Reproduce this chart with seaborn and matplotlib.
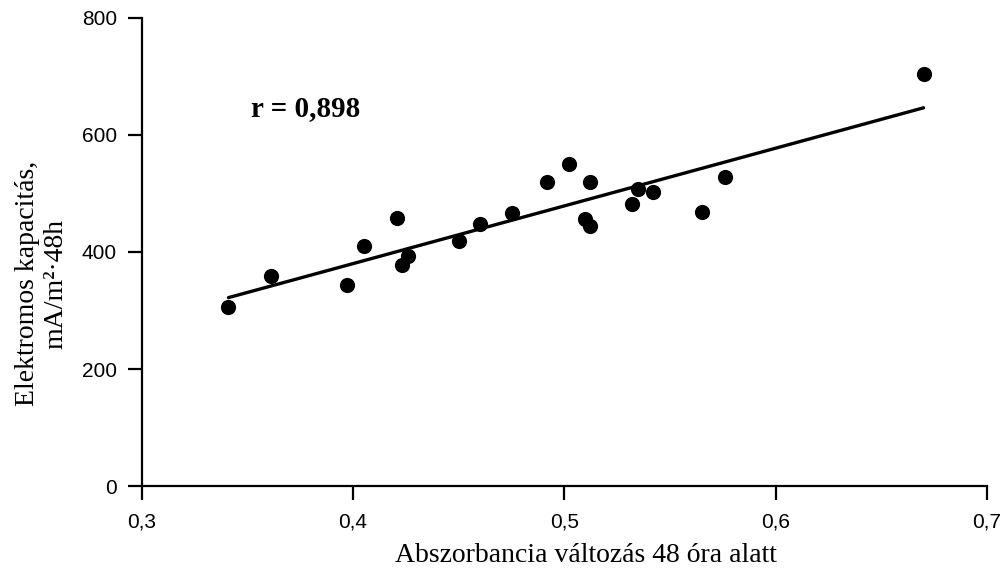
import matplotlib
matplotlib.use("Agg")
import matplotlib.pyplot as plt
import numpy as np
import pandas as pd
import seaborn as sns

# Data
absorbance = [0.341, 0.361, 0.397, 0.405, 0.421, 0.423, 0.426, 0.450, 0.460,
              0.475, 0.492, 0.502, 0.512, 0.510, 0.512, 0.532, 0.535, 0.542,
              0.565, 0.576, 0.670]
capacity = [306, 359, 343, 410, 458, 378, 393, 419, 448,
            467, 520, 551, 520, 456, 444, 482, 508, 503,
            469, 528, 704]
x_ticks = [0.3, 0.4, 0.5, 0.6, 0.7]
x_ticklabels = ["0,3", "0,4", "0,5", "0,6", "0,7"]
y_ticks = [0, 200, 400, 600, 800]
r_label = "r = 0,898"

df = pd.DataFrame({"abs": absorbance, "cap": capacity})

sns.set_style("ticks")
plt.rcParams["font.family"] = ["Liberation Sans", "DejaVu Sans"]
plt.rcParams["text.color"] = "black"
plt.rcParams["axes.labelcolor"] = "black"

fig = plt.figure(figsize=(10.06, 5.74), dpi=100)
ax = fig.add_axes([0.141, 0.153, 0.84, 0.816])

sns.regplot(data=df, x="abs", y="cap", ax=ax, ci=None, truncate=True,
            color="black",
            scatter_kws=dict(s=120, linewidths=0, alpha=1),
            line_kws=dict(linewidth=2.4))

ax.set_xlim(0.3, 0.7)
ax.set_ylim(0, 800)
ax.set_xticks(x_ticks)
ax.set_xticklabels(x_ticklabels)
ax.set_yticks(y_ticks)

sns.despine(ax=ax)
for side in ["left", "bottom"]:
    ax.spines[side].set_linewidth(1.6)
    ax.spines[side].set_color("black")
ax.tick_params(direction="out", length=10, width=1.6, labelsize=15,
               colors="black")
ax.tick_params(axis="y", pad=8)
ax.tick_params(axis="x", pad=9)

serif = ["Liberation Serif", "DejaVu Serif"]
ax.set_xlabel("Abszorbancia változás 48 óra alatt", family=serif,
              fontsize=20)
ax.xaxis.set_label_coords(0.525, -0.122)
ax.set_ylabel("Elektromos kapacitás,\nmA/m²·48h", family=serif,
              fontsize=20, linespacing=1.15)
ax.yaxis.set_label_coords(-0.087, 0.432)
ax.text(0.3515, 645, r_label, family=serif, fontsize=21, fontweight="bold",
        va="center", ha="left")

fig.savefig("out.png", dpi=100)
